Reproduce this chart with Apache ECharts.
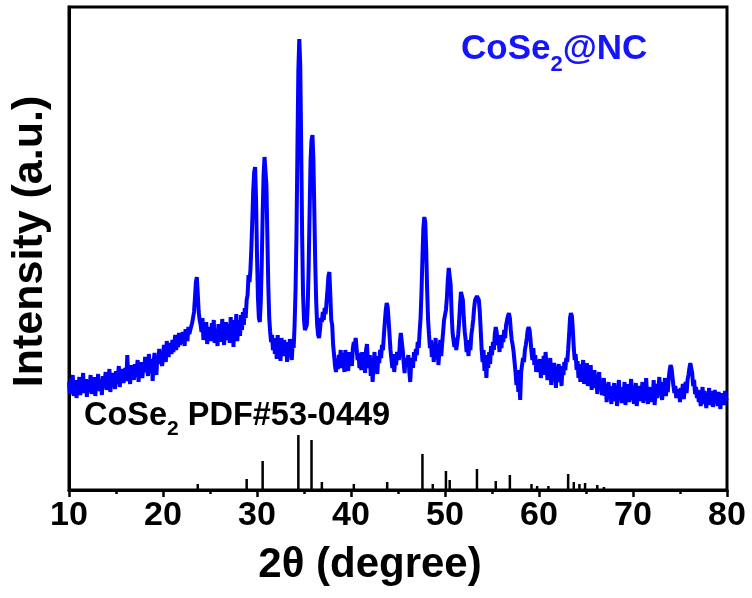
<!DOCTYPE html>
<html>
<head>
<meta charset="utf-8">
<script src="https://cdn.jsdelivr.net/npm/echarts@6/dist/echarts.min.js"></script>
<style>
  html, body { margin: 0; padding: 0; background: #fff; }
  #chart { width: 752px; height: 598px; }
</style>
</head>
<body>
<div id="chart"></div>
<script>
// XRD scan of CoSe2@NC: 2θ from 10° to 80° in 0.1° steps
const scanStart = 10;
const scanStep = 0.1;
const intensity = [
  108, 96, 112, 100, 115, 94, 104, 110, 92, 106,
  99, 113, 95, 108, 102, 117, 97, 105, 111, 93,
  110, 98, 104, 115, 96, 108, 101, 113, 94, 107,
  103, 116, 99, 111, 106, 95, 114, 102, 109, 118,
  100, 115, 107, 121, 98, 110, 104, 117, 108, 101,
  119, 106, 113, 124, 103, 116, 110, 121, 107, 114,
  122, 109, 135, 112, 120, 106, 125, 114, 118, 110,
  126, 113, 119, 130, 108, 124, 117, 128, 112, 122,
  118, 133, 121, 127, 114, 136, 123, 117, 131, 109,
  128, 137, 122, 115, 134, 126, 141, 129, 135, 124,
  132, 145, 136, 128, 149, 139, 133, 147, 141, 136,
  150, 138, 146, 155, 140, 148, 143, 157, 145, 151,
  147, 158, 152, 144, 161, 153, 149, 163, 156, 160,
  158, 167, 165, 178, 192, 208, 213, 196, 178, 170,
  165, 158, 172, 150, 163, 155, 168, 146, 160, 153,
  163, 149, 167, 155, 170, 147, 161, 158, 144, 166,
  152, 165, 148, 171, 156, 145, 162, 168, 150, 159,
  166, 147, 173, 155, 161, 143, 170, 157, 176, 149,
  162, 170, 154, 175, 160, 178, 165, 182, 172, 190,
  195, 215, 208, 220, 242, 270, 300, 318, 323, 290,
  235, 192, 172, 168, 188, 225, 275, 315, 333, 335,
  305, 255, 205, 172, 158, 148, 155, 140, 152, 136,
  149, 131, 155, 138, 146, 129, 152, 140, 134, 150,
  137, 148, 128, 145, 133, 151, 139, 130, 147, 142,
  165, 200, 255, 340, 420, 451, 425, 345, 255, 195,
  170, 160, 158, 165, 185, 225, 280, 330, 350, 355,
  330, 278, 225, 188, 165, 155, 152, 160, 172, 168,
  178, 170, 182, 176, 188, 200, 214, 218, 195, 170,
  165, 145, 135, 124, 118, 130, 121, 135, 126, 140,
  122, 137, 131, 118, 140, 126, 133, 119, 138, 128,
  135, 124, 142, 148, 145, 152, 141, 130, 137, 122,
  131, 120, 138, 126, 134, 117, 140, 146, 128, 122,
  135, 114, 129, 108, 125, 138, 120, 130, 116, 134,
  127, 140, 132, 145, 140, 155, 168, 180, 187, 183,
  170, 155, 140, 131, 122, 136, 118, 130, 125, 138,
  138, 130, 148, 157, 155, 140, 128, 117, 132, 124,
  124, 135, 119, 108, 126, 132, 122, 138, 129, 141,
  135, 148, 142, 158, 172, 198, 232, 262, 273, 268,
  240, 200, 170, 155, 142, 150, 133, 146, 128, 140,
  152, 131, 145, 125, 139, 150, 134, 147, 158, 170,
  175, 180, 192, 210, 222, 224, 205, 178, 158, 150,
  143, 152, 140, 148, 155, 168, 185, 198, 200, 190,
  172, 158, 150, 138, 146, 134, 150, 140, 155, 162,
  170, 182, 190, 188, 194, 195, 190, 178, 160, 140,
  128, 140, 119, 135, 112, 130, 122, 138, 126, 144,
  135, 148, 140, 156, 163, 158, 145, 152, 138, 155,
  142, 155, 148, 160, 152, 165, 170, 174, 177, 172,
  160, 150, 145, 138, 128, 118, 105, 120, 98, 110,
  90, 118, 125, 132, 128, 140, 145, 152, 160, 163,
  160, 150, 138, 130, 142, 125, 135, 118, 130, 126,
  118, 131, 112, 127, 120, 134, 115, 138, 124, 110,
  128, 118, 132, 105, 122, 113, 127, 119, 102, 121,
  112, 126, 108, 118, 104, 124, 115, 128, 120, 132,
  128, 140, 155, 172, 177, 174, 160, 142, 130, 136,
  120, 129, 112, 124, 108, 126, 117, 130, 106, 121,
  113, 127, 104, 119, 110, 125, 100, 116, 108, 120,
  102, 114, 96, 111, 118, 100, 109, 95, 106, 112,
  94, 103, 88, 101, 108, 92, 99, 86, 104, 96,
  107, 89, 101, 84, 98, 110, 91, 100, 87, 103,
  94, 108, 85, 99, 92, 106, 88, 97, 111, 90,
  102, 86, 98, 107, 84, 95, 104, 89, 100, 93,
  108, 87, 99, 91, 112, 95, 86, 103, 97, 88,
  101, 94, 110, 85, 98, 106, 92, 100, 113, 96,
  104, 90, 108, 99, 112, 94, 105, 98, 112, 120,
  125, 122, 113, 104, 97, 104, 92, 101, 95, 98,
  88, 102, 94, 106, 91, 100, 108, 97, 110, 115,
  122, 127, 125, 117, 104, 110, 96, 103, 92, 100,
  88, 97, 84, 95, 103, 86, 99, 91, 82, 96,
  89, 102, 85, 94, 99, 83, 92, 100, 87, 95,
  84, 98, 90, 81, 97, 88, 94, 85, 99, 90,
  92
];

// Standard reference pattern CoSe2 (PDF#53-0449): line positions and relative heights
const refAngles  = [23.7, 28.9, 30.6, 34.4, 35.8, 36.9, 40.3, 43.85, 47.6, 48.7, 50.1, 50.5, 53.4, 55.4, 56.9, 59.2, 59.8, 61.0, 63.1, 63.7, 64.3, 64.9, 66.2, 66.9];
const refHeights = [6, 11, 29, 55, 50, 8, 6, 8, 36, 6, 19, 10, 21, 9, 15, 6, 4, 4, 16, 8, 6, 7, 5, 3];

// Axis settings
const xMin = 10, xMax = 80, xInterval = 10;
const yMin = 0, yMax = 483;

const scanData = intensity.map((v, i) => [+(scanStart + i * scanStep).toFixed(1), v]);
const refData = refAngles.map((a, i) => [a, refHeights[i]]);

const FONT = '"Liberation Sans", Arial, Helvetica, sans-serif';

const chart = echarts.init(document.getElementById('chart'), null, { renderer: 'canvas' });
chart.setOption({
  animation: false,
  backgroundColor: '#fff',
  grid: {
    left: 69, right: 25, top: 7, bottom: 108,
    show: true, borderColor: '#000', borderWidth: 3, backgroundColor: 'transparent'
  },
  xAxis: {
    type: 'value', min: xMin, max: xMax, interval: xInterval,
    name: '2θ (degree)', nameLocation: 'middle', nameGap: 54,
    nameTextStyle: { fontFamily: FONT, fontWeight: 'bold', fontSize: 42, color: '#000', padding: [0, 56, 0, 0] },
    axisLine: { show: true, onZero: false, lineStyle: { color: '#000', width: 3 } },
    axisTick: { show: true, inside: false, length: 7, lineStyle: { color: '#000', width: 2.5 } },
    minorTick: { show: true, splitNumber: 2, length: 4, lineStyle: { color: '#000', width: 2.5 } },
    axisLabel: { fontFamily: FONT, fontWeight: 'bold', fontSize: 34, color: '#000', margin: 9 },
    splitLine: { show: false }
  },
  yAxis: {
    type: 'value', min: yMin, max: yMax,
    name: 'Intensity (a.u.)', nameLocation: 'middle', nameGap: 17, nameRotate: 90,
    nameTextStyle: { fontFamily: FONT, fontWeight: 'bold', fontSize: 43, color: '#000', padding: [0, 0, 0, 14] },
    axisLine: { show: true, lineStyle: { color: '#000', width: 3 } },
    axisTick: { show: false },
    axisLabel: { show: false },
    splitLine: { show: false }
  },
  series: [
    {
      name: 'PDF#53-0449', type: 'bar', data: refData,
      barWidth: 2.5, itemStyle: { color: '#000' }, z: 2, silent: true
    },
    {
      name: 'CoSe2@NC', type: 'line', data: scanData,
      showSymbol: false, smooth: false, clip: true,
      lineStyle: { color: '#0000ff', width: 4 }, z: 3, silent: true
    }
  ],
  graphic: [
    {
      type: 'text', left: 461, top: 32,
      style: {
        text: '{m|CoSe}{s|2}{m|@NC}',
        rich: {
          m: { fontFamily: FONT, fontWeight: 'bold', fontSize: 35, fill: '#1414ff', lineHeight: 44, verticalAlign: 'top' },
          s: { fontFamily: FONT, fontWeight: 'bold', fontSize: 22, fill: '#1414ff', lineHeight: 22, verticalAlign: 'bottom' }
        }
      }
    },
    {
      type: 'text', left: 84, top: 400,
      style: {
        text: '{m|CoSe}{s|2}{m| PDF#53-0449}',
        rich: {
          m: { fontFamily: FONT, fontWeight: 'bold', fontSize: 32.5, fill: '#000', lineHeight: 40, verticalAlign: 'top' },
          s: { fontFamily: FONT, fontWeight: 'bold', fontSize: 21, fill: '#000', lineHeight: 21, verticalAlign: 'bottom' }
        }
      }
    }
  ]
});
</script>
</body>
</html>
